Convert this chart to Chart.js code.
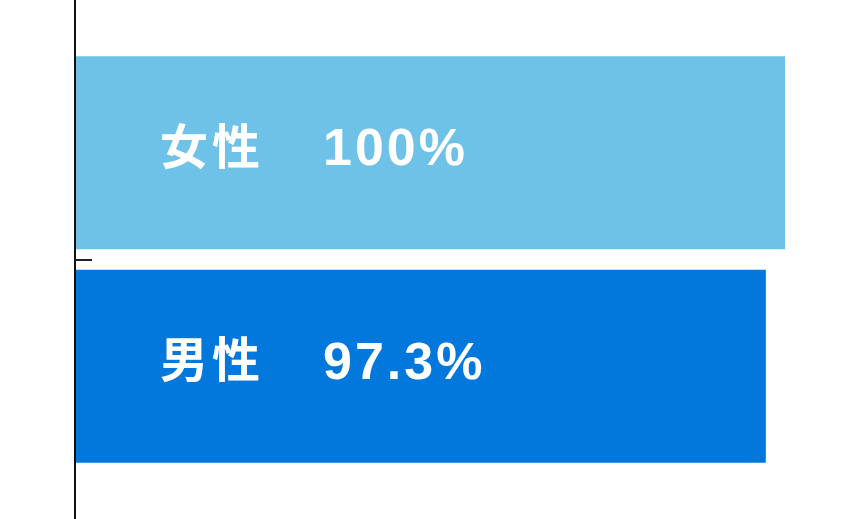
<!DOCTYPE html>
<html>
<head>
<meta charset="utf-8">
<script src="https://cdn.jsdelivr.net/npm/chart.js@4"></script>
<style>
  html, body { margin: 0; padding: 0; background: #fff; }
  #wrap { width: 860px; height: 519px; }
</style>
</head>
<body>
<div id="wrap"><canvas id="genderChart"></canvas></div>
<script>
// data
const categories = ["女性", "男性"];
const values = [100, 97.3];
const valueLabels = ["100%", "97.3%"];
const barColors = ["#6ec2e7", "#0278dc"];

// axis line + inner tick between the bars, and labels inside bars
const decorPlugin = {
  id: "decor",
  afterDatasetsDraw(chart) {
    const ctx = chart.ctx;
    const x = chart.scales.x;
    const y = chart.scales.y;
    const left = x.getPixelForValue(0);
    const hasSpacing = "letterSpacing" in ctx;

    ctx.save();
    // labels
    const meta = chart.getDatasetMeta(0);
    ctx.fillStyle = "#ffffff";
    ctx.textBaseline = "middle";
    ctx.textAlign = "left";
    meta.data.forEach((bar, i) => {
      ctx.font = '600 48px "Noto Sans CJK JP", sans-serif';
      if (hasSpacing) ctx.letterSpacing = "4px";
      ctx.fillText(categories[i], left + 85, bar.y - 7);
      ctx.font = 'bold 52px "Liberation Sans", Arial, sans-serif';
      if (hasSpacing) ctx.letterSpacing = "3px";
      ctx.fillText(valueLabels[i], left + 248, bar.y - 2);
    });
    if (hasSpacing) ctx.letterSpacing = "0px";

    // axis line
    ctx.strokeStyle = "#111";
    ctx.lineWidth = 2;
    ctx.beginPath();
    ctx.moveTo(left, 0);
    ctx.lineTo(left, chart.height);
    ctx.stroke();

    // ticks between categories
    for (let i = 0; i < categories.length - 1; i++) {
      const ty = Math.round((y.getPixelForValue(i) + y.getPixelForValue(i + 1)) / 2);
      ctx.strokeStyle = "#222";
      ctx.lineWidth = 2;
      ctx.beginPath();
      ctx.moveTo(left, ty);
      ctx.lineTo(left + 17, ty);
      ctx.stroke();
    }
    ctx.restore();
  }
};

new Chart(document.getElementById("genderChart"), {
  type: "bar",
  data: {
    labels: categories,
    datasets: [
      {
        data: values,
        backgroundColor: barColors,
        borderWidth: 0,
        barPercentage: 0.904,
        categoryPercentage: 1.0,
      },
    ],
  },
  options: {
    indexAxis: "y",
    responsive: true,
    maintainAspectRatio: false,
    animation: false,
    layout: { padding: { left: 75, right: 75, top: 46, bottom: 46 } },
    plugins: {
      legend: { display: false },
      tooltip: { enabled: false },
    },
    scales: {
      x: { display: false, min: 0, max: 100 },
      y: { display: false },
    },
  },
  plugins: [decorPlugin],
});
</script>
</body>
</html>
